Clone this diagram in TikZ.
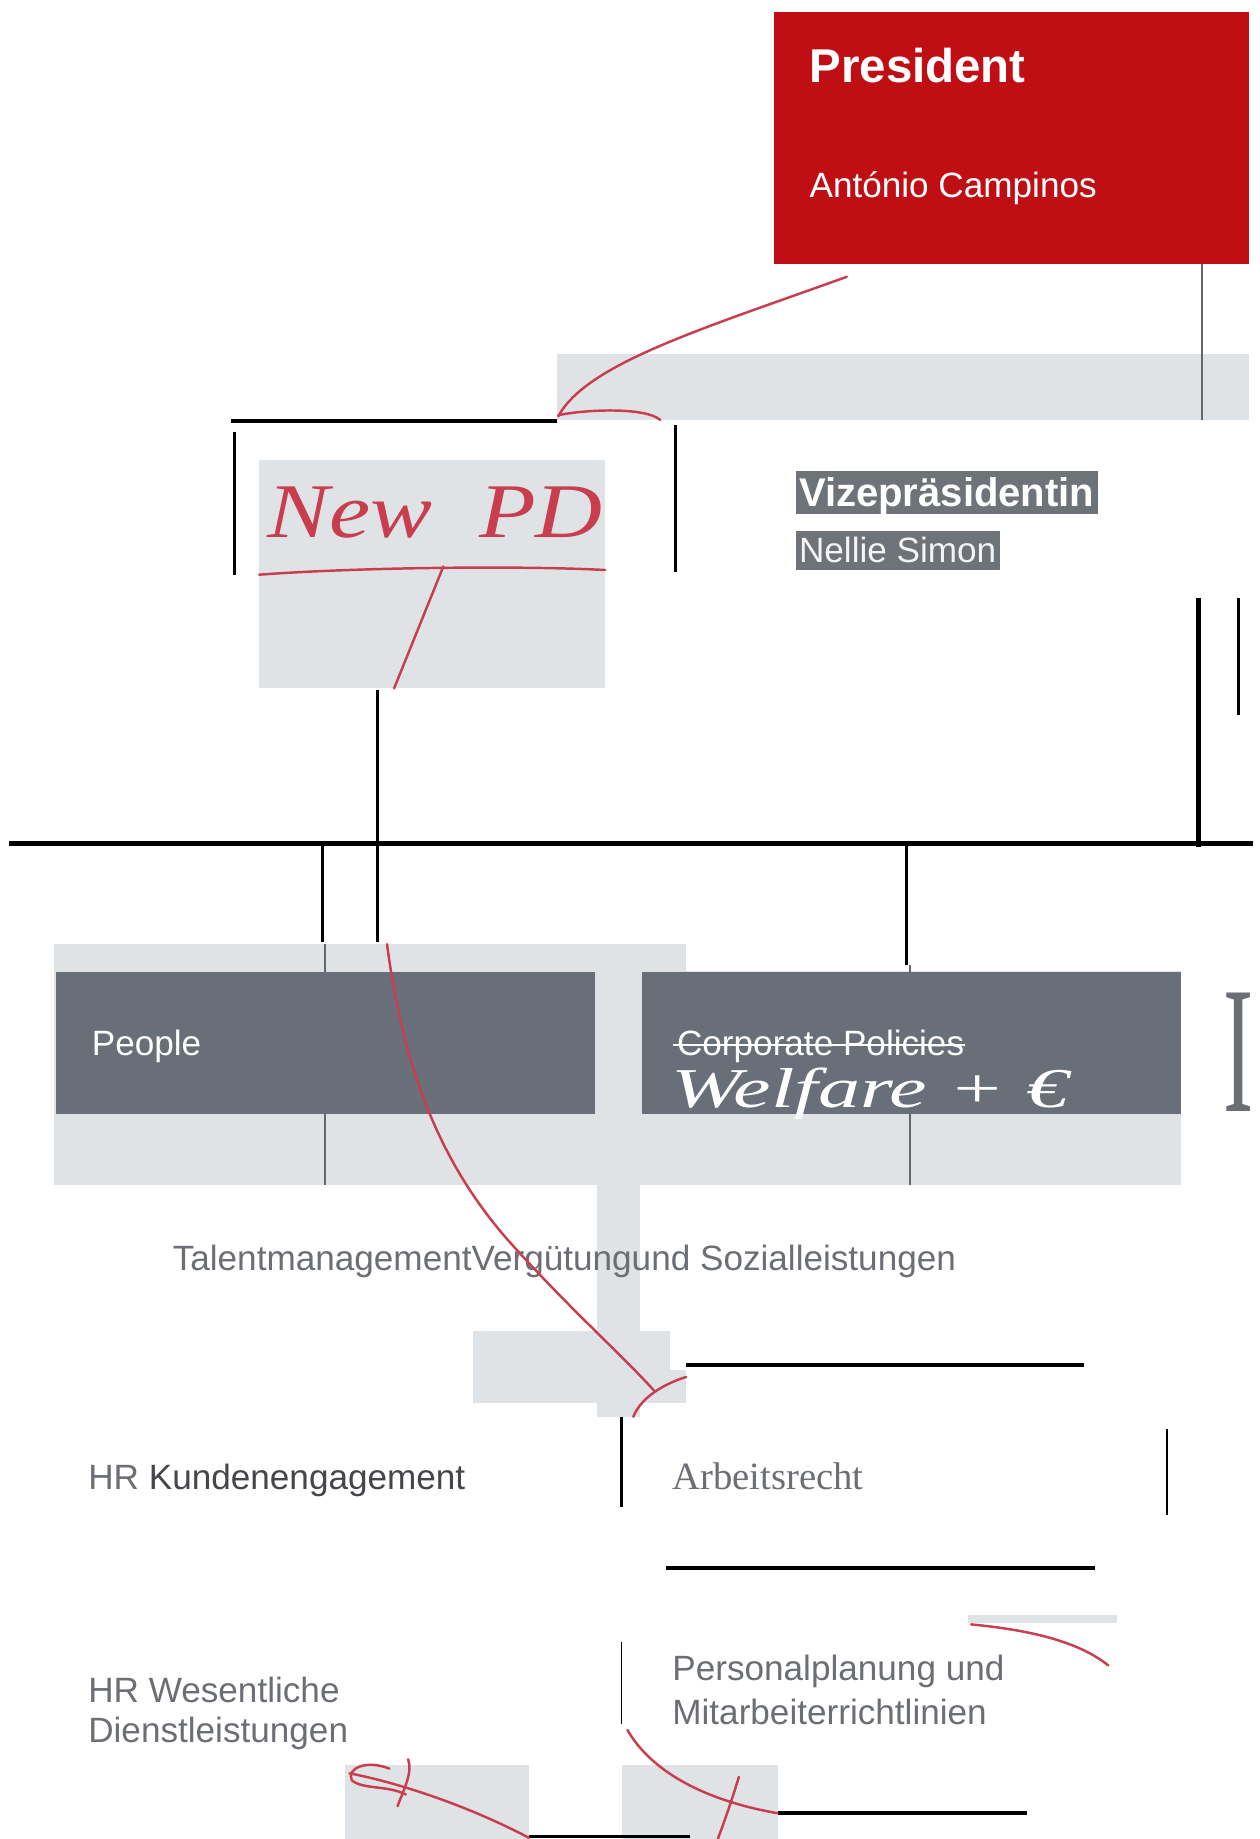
\documentclass[tikz,border=0pt]{standalone}
\usepackage{fontspec}
\setmainfont{Liberation Sans}
\newfontfamily\serifface{Liberation Serif}
\definecolor{presred}{RGB}{192,15,20}
\definecolor{boxgray}{RGB}{104,111,121}
\definecolor{palegray}{RGB}{224,227,230}
\definecolor{vpgray}{RGB}{110,114,121}
\definecolor{textgray}{RGB}{107,110,115}
\definecolor{darktext}{RGB}{68,70,74}
\definecolor{inkred}{RGB}{200,62,78}
\definecolor{stemgray}{RGB}{98,103,110}
\begin{document}
\begin{tikzpicture}[x=0.23464mm, y=-0.23464mm,
    blk/.style={line width=2pt},
    ink/.style={draw=inkred, line width=1.4pt, line cap=round},
    lbl/.style={anchor=base west, inner sep=0pt, text=textgray, font=\fontsize{20}{24.7}\selectfont},
    onbox/.style={anchor=base west, inner sep=0pt, text=white}]
    \useasboundingbox (0,0) rectangle (1074,1568);

    \fill[presred] (660,10) rectangle (1065,225);
    \fill[palegray] (475,302) rectangle (1065,358);
    \draw[stemgray, line width=1.5pt] (1025,225) -- (1025,358);
    \node[onbox, font=\fontsize{27}{30}\bfseries] (pres) at (690,70) {President};
    \node[onbox, font=\fontsize{20}{24}\selectfont] (presname) at (690,168) {António Campinos};

    \draw[blk] (197,359) -- (475,359);
    \draw[blk] (200,368) -- (200,490);
    \draw[blk] (576,362) -- (576,488);
    \fill[palegray] (221,392) rectangle (516,587);
    \node[anchor=base west, inner sep=0pt, text=inkred, font=\fontsize{44}{48}\serifface\itshape] (newpd) at (228,458) {\scalebox{1.2}[1]{New\ \ PD}};
    \draw[blk] (322,588) -- (322,720);

    \fill[vpgray] (679,402) rectangle (936,438);
    \fill[vpgray] (679,453) rectangle (853,486);
    \node[onbox, font=\fontsize{22.8}{26}\bfseries] (vp) at (681,432) {Vizepräsidentin};
    \node[onbox, text=white!92!vpgray, font=\fontsize{20}{24}\selectfont] (vpname) at (681,480) {Nellie Simon};

    \draw[line width=2.6pt] (1022,510) -- (1022,722);
    \draw[blk] (1056,510) -- (1056,610);
    \draw[line width=2.6pt] (8,719) -- (1068,719);
    \draw[blk] (275,720) -- (275,803);
    \draw[blk] (322,720) -- (322,803);
    \draw[blk] (773,720) -- (773,823);

    \fill[palegray] (46,805) rectangle (585,1010);
    \fill[palegray] (547,828) rectangle (1007,1010);
    \fill[palegray] (509,1010) rectangle (546,1208);
    \fill[palegray] (403,1135) rectangle (571,1196);
    \fill[palegray] (571,1168) rectangle (585,1196);
    \fill[boxgray] (48,829) rectangle (507,950);
    \fill[boxgray] (547,829) rectangle (1007,950);
    \draw[stemgray, line width=0.8pt] (277,805) -- (277,829) (277,950) -- (277,1010);
    \draw[stemgray, line width=0.8pt] (776,823) -- (776,829) (776,950) -- (776,1010);
    \node[onbox, font=\fontsize{20}{24}\selectfont] (people) at (78,900) {People};
    \node[onbox, font=\fontsize{20}{24}\selectfont] (corp) at (577,900) {Corporate Policies};
    \draw[white, line width=1.2pt] ([xshift=-2pt, yshift=6pt]corp.base west) -- ([yshift=6pt]corp.base east);
    \node[onbox, font=\fontsize{32}{36}\serifface\itshape] (welfare) at (572,944) {\scalebox{1.5}[1]{Welfare + €}};
    \node[anchor=base west, inner sep=0pt, text=textgray, font=\fontsize{103}{108}\serifface] (bigi) at (1043,948) {\scalebox{0.5}[1]{I}};

    \node[lbl] (talent) at (147,1083) {TalentmanagementVergütungund Sozialleistungen};

    \draw[blk] (585,1164) -- (924,1164);
    \node[lbl] (hrk) at (75,1270) {HR \textcolor{darktext}{Kundenengagement}};
    \draw[line width=1.7pt] (530,1208) -- (530,1285);
    \node[lbl, font=\fontsize{22}{26}\serifface] (arbeit) at (573,1270) {Arbeitsrecht};
    \draw[line width=1pt] (995,1218) -- (995,1292);
    \draw[line width=2.3pt] (568,1337) -- (934,1337);

    \fill[palegray] (825,1377) rectangle (952,1384);
    \node[lbl, align=left] (personal) at (573,1470) {Personalplanung und\\Mitarbeiterrichtlinien};
    \draw[line width=0.8pt] (530,1400) -- (530,1470);
    \node[lbl, align=left, font=\fontsize{20}{22.7}\selectfont] (hrw) at (75,1486) {HR Wesentliche\\Dienstleistungen};

    \fill[palegray] (294,1505) rectangle (451,1568);
    \fill[palegray] (530,1505) rectangle (663,1568);
    \draw[blk] (663,1546) -- (876,1546);
    \draw[blk] (451,1566) -- (588,1566);

    \draw[ink] (722,236) .. controls (600,280) and (500,310) .. (476,355);
    \draw[ink] (476,354) .. controls (500,349) and (550,347) .. (563,358);
    \draw[ink] (221,490) .. controls (300,484) and (440,482) .. (516,486);
    \draw[ink] (378,483) -- (336,587);
    \draw[ink] (330,805) .. controls (345,920) and (380,1000) .. (440,1065) .. controls (490,1120) and (530,1155) .. (558,1186);
    \draw[ink] (540,1208) .. controls (545,1195) and (560,1182) .. (585,1174);
    \draw[ink] (828,1385) .. controls (880,1390) and (920,1400) .. (945,1420);
    \draw[ink] (298,1512) .. controls (340,1520) and (400,1540) .. (451,1567);
    \draw[ink] (332,1508) .. controls (312,1500) and (295,1508) .. (300,1518) .. controls (310,1526) and (330,1522) .. (346,1530);
    \draw[ink] (348,1500) .. controls (352,1512) and (344,1526) .. (339,1540);
    \draw[ink] (535,1475) .. controls (555,1510) and (600,1535) .. (663,1546);
    \draw[ink] (630,1515) .. controls (624,1535) and (618,1552) .. (612,1568);
\end{tikzpicture}
\end{document}
